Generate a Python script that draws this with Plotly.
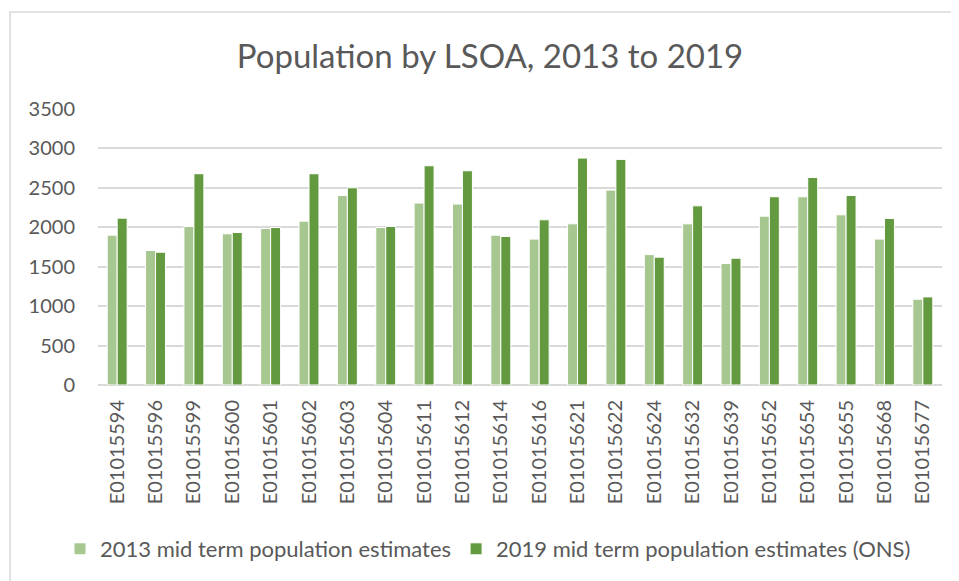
import plotly.graph_objects as go

lsoa_codes = [
    "E01015594", "E01015596", "E01015599", "E01015600", "E01015601", "E01015602",
    "E01015603", "E01015604", "E01015611", "E01015612", "E01015614", "E01015616",
    "E01015621", "E01015622", "E01015624", "E01015632", "E01015639", "E01015652",
    "E01015654", "E01015655", "E01015668", "E01015677",
]
pop_2013 = [1900, 1705, 2010, 1917, 1985, 2078, 2404, 1997, 2307, 2294, 1900,
            1850, 2044, 2472, 1654, 2044, 1540, 2141, 2387, 2158, 1850, 1088]
pop_2019 = [2116, 1684, 2679, 1934, 1997, 2679, 2501, 2010, 2780, 2717, 1883,
            2095, 2878, 2861, 1621, 2272, 1608, 2387, 2632, 2404, 2112, 1117]

series_names = ["2013 mid term population estimates",
                "2019 mid term population estimates (ONS)"]
title_text = "Population by LSOA, 2013 to 2019"

FONT = "Lato, 'Open Sans', sans-serif"
TEXT_COLOR = "#595959"
GRID_COLOR = "#D9D9D9"

W, H = 959, 581
OFF = 8  # the page body adds an 8px margin, so pull everything up/left
L, R, T, B = 98 - OFF, 942 - OFF, 109 - OFF, 385 - OFF  # plot box in figure px
PW, PH = R - L, B - T


def px_x(v):
    return (v - OFF - L) / PW


def px_y(v):
    return (B - (v - OFF)) / PH


fig = go.Figure()
fig.add_trace(go.Bar(
    x=lsoa_codes, y=pop_2013, name=series_names[0],
    marker=dict(color="#A6C78F", line=dict(color="white", width=1)),
))
fig.add_trace(go.Bar(
    x=lsoa_codes, y=pop_2019, name=series_names[1],
    marker=dict(color="#649A3F", line=dict(color="white", width=1)),
))

fig.update_layout(
    width=W, height=H,
    margin=dict(l=L, r=W - R, t=T, b=H - B, autoexpand=False),
    paper_bgcolor="white",
    plot_bgcolor="white",
    barmode="group",
    bargap=0.48,
    bargroupgap=0,
    font=dict(family=FONT, size=20, color=TEXT_COLOR),
    title=dict(
        text=title_text,
        x=(490 - OFF) / W, xanchor="center",
        y=1 - (56 - OFF) / H, yref="container", yanchor="middle",
        font=dict(family=FONT, size=33, color=TEXT_COLOR),
    ),
    xaxis=dict(
        tickangle=-90,
        showgrid=False,
        showline=False,
        ticks="",
        automargin=False,
        ticklabelstandoff=10,
        tickfont=dict(family=FONT, size=20, color=TEXT_COLOR),
    ),
    yaxis=dict(
        range=[0, 3500],
        dtick=500,
        showgrid=True,
        gridcolor=GRID_COLOR,
        gridwidth=1.5,
        zeroline=True,
        zerolinecolor=GRID_COLOR,
        zerolinewidth=1.5,
        showline=False,
        ticks="",
        automargin=False,
        ticklabelstandoff=22,
        tickfont=dict(family=FONT, size=20, color=TEXT_COLOR),
    ),
    legend=dict(
        orientation="h",
        x=px_x(60), xanchor="left",
        y=px_y(549), yanchor="middle",
        font=dict(family=FONT, size=22, color=TEXT_COLOR),
        itemwidth=30,
        bgcolor="rgba(0,0,0,0)",
    ),
    showlegend=True,
    # outer chart frame, cropped on the right and bottom like the source
    shapes=[dict(
        type="rect", xref="paper", yref="paper",
        x0=px_x(10), x1=px_x(990),
        y0=px_y(620), y1=px_y(12),
        line=dict(color="#D9D9D9", width=1.5),
        fillcolor="rgba(0,0,0,0)",
        layer="below",
    )],
)

fig.write_html("out.html")
